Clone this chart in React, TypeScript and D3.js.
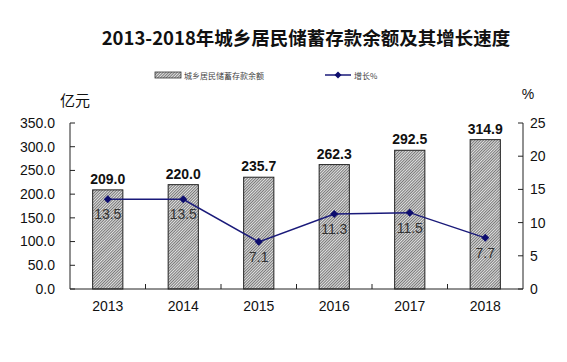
import React from 'react'
import { scaleBand, scaleLinear, line } from 'd3'

const years = ['2013', '2014', '2015', '2016', '2017', '2018']
const balance = [209.0, 220.0, 235.7, 262.3, 292.5, 314.9]
const growth = [13.5, 13.5, 7.1, 11.3, 11.5, 7.7]
const leftTicks = [0, 50, 100, 150, 200, 250, 300, 350]
const rightTicks = [0, 5, 10, 15, 20, 25]

const width = 567
const height = 362
const margin = { top: 123, right: 44, bottom: 73, left: 70 }
const innerWidth = width - margin.left - margin.right
const innerHeight = height - margin.top - margin.bottom

const font = 'Arial, "Liberation Sans", "Noto Sans CJK SC", sans-serif'
const cjk = '"Noto Sans CJK SC", sans-serif'

export default function App() {
  const x = scaleBand().domain(years).range([0, innerWidth]).paddingInner(0.6).paddingOuter(0.3)
  const yLeft = scaleLinear().domain([0, 350]).range([innerHeight, 0])
  const yRight = scaleLinear().domain([0, 25]).range([innerHeight, 0])
  const cx = (d: string) => (x(d) as number) + x.bandwidth() / 2

  const pts = years.map((d, i) => [cx(d), yRight(growth[i])] as [number, number])
  const path = line()(pts) as string
  const step = x.step()

  return (
    <svg width={width} height={height} style={{ position: 'absolute', left: 0, top: 0, background: '#fff' }} fontFamily={font}>
      <defs>
        <pattern id="hatch" width={2} height={2} patternUnits="userSpaceOnUse" patternTransform="rotate(45)">
          <rect width={2} height={2} fill="#e2e2e2" />
          <line x1={0.5} y1={0} x2={0.5} y2={2} stroke="#6c6c6c" strokeWidth={0.9} />
        </pattern>
      </defs>

      <text x={306} y={45} textAnchor="middle" fontSize={18.5} fontWeight="bold" fill="#111"
        fontFamily={cjk}>2013-2018年城乡居民储蓄存款余额及其增长速度</text>

      {/* legend */}
      <rect x={155} y={72} width={26} height={6} fill="url(#hatch)" stroke="#333" strokeWidth={0.8} />
      <text x={184} y={78.5} fontSize={8} fill="#444" fontFamily={cjk}>城乡居民储蓄存款余额</text>
      <line x1={325} x2={351} y1={75} y2={75} stroke="#1a1a7a" strokeWidth={1.5} />
      <path d="M338,71.5 L341.5,75 L338,78.5 L334.5,75 Z" fill="#0d0d6e" />
      <text x={354} y={78.5} fontSize={8} fill="#444" fontFamily={cjk}>增长%</text>

      <text x={75} y={106} textAnchor="middle" fontSize={15} fill="#111" fontFamily={cjk}>亿元</text>
      <text x={528} y={99} textAnchor="middle" fontSize={14} fill="#111">%</text>

      <g transform={`translate(${margin.left},${margin.top})`}>
        {years.map((d, i) => (
          <g key={d}>
            <rect x={x(d)} y={yLeft(balance[i])} width={x.bandwidth()} height={innerHeight - yLeft(balance[i])}
              fill="url(#hatch)" stroke="#222" strokeWidth={1} />
            <text x={cx(d)} y={yLeft(balance[i]) - 6} textAnchor="middle" fontSize={14} fontWeight="bold" fill="#111">
              {balance[i].toFixed(1)}
            </text>
          </g>
        ))}

        {/* left axis */}
        <line x1={0} x2={0} y1={0} y2={innerHeight} stroke="#222" />
        {leftTicks.map(t => (
          <g key={t} transform={`translate(0,${yLeft(t)})`}>
            <line x1={0} x2={5} stroke="#222" />
            <text x={-15} dy="0.35em" textAnchor="end" fontSize={14} fill="#111">{t.toFixed(1)}</text>
          </g>
        ))}

        {/* right axis */}
        <line x1={innerWidth} x2={innerWidth} y1={0} y2={innerHeight} stroke="#222" />
        {rightTicks.map(t => (
          <g key={t} transform={`translate(${innerWidth},${yRight(t)})`}>
            <line x1={0} x2={-5} stroke="#222" />
            <text x={7} dy="0.35em" fontSize={14} fill="#111">{t}</text>
          </g>
        ))}

        {/* x axis */}
        <line x1={0} x2={innerWidth} y1={innerHeight} y2={innerHeight} stroke="#222" />
        {years.slice(1).map(d => (
          <line key={d} x1={cx(d) - step / 2} x2={cx(d) - step / 2} y1={innerHeight} y2={innerHeight - 5} stroke="#222" />
        ))}
        {years.map(d => (
          <text key={d} x={cx(d)} y={innerHeight + 22} textAnchor="middle" fontSize={14} fill="#111">{d}</text>
        ))}

        <path d={path} fill="none" stroke="#1a1a7a" strokeWidth={1.5} />
        {pts.map(([px, py], i) => (
          <g key={i}>
            <path d={`M${px},${py - 4} L${px + 4},${py} L${px},${py + 4} L${px - 4},${py} Z`} fill="#0d0d6e" />
            <text x={px} y={py + 20} textAnchor="middle" fontSize={14} fill="#333">{growth[i].toFixed(1)}</text>
          </g>
        ))}
      </g>
    </svg>
  )
}
